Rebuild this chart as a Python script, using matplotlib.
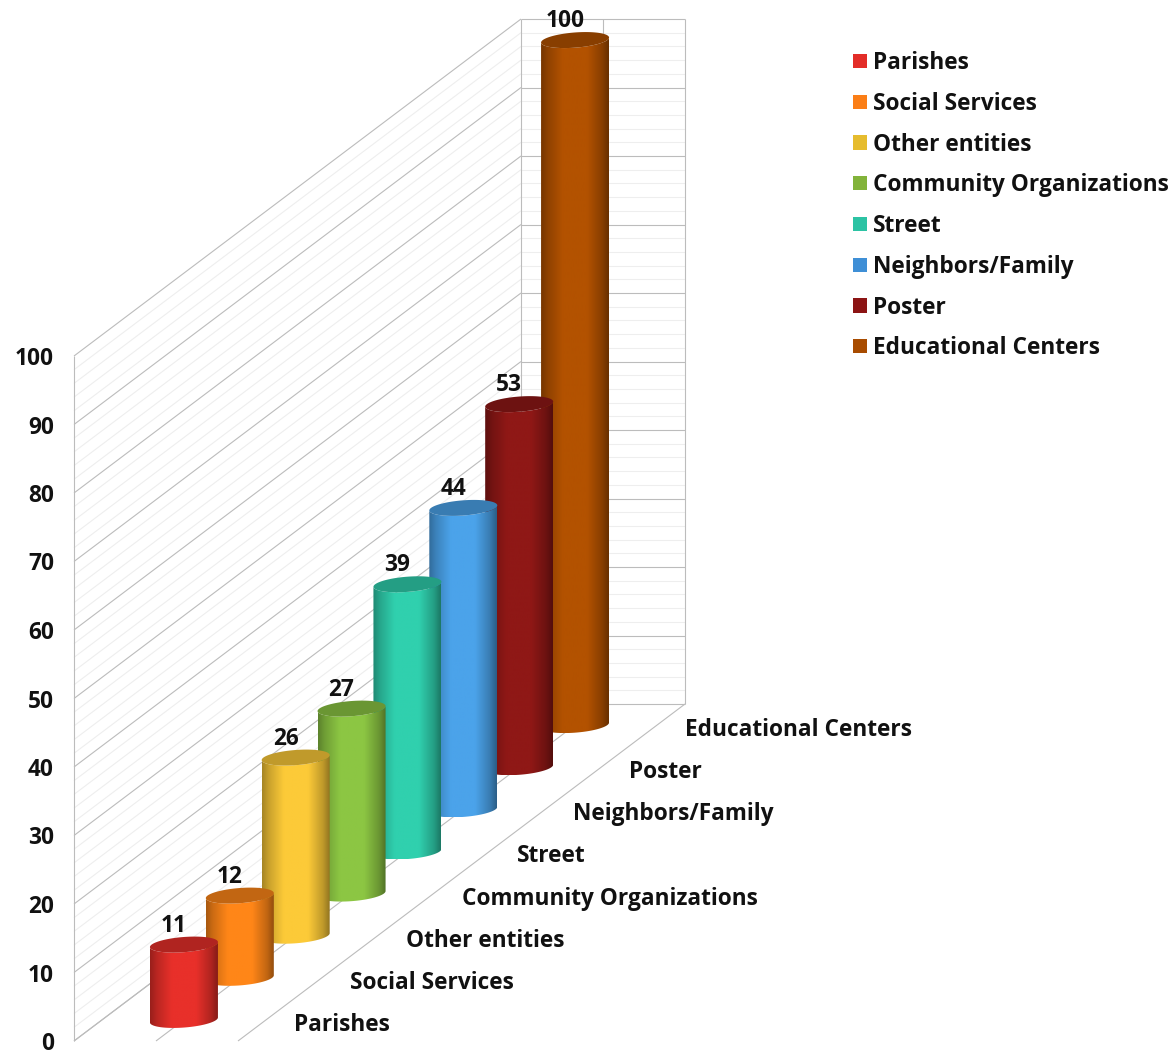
import numpy as np
import matplotlib
matplotlib.use("Agg")
import matplotlib.pyplot as plt
from matplotlib.patches import Patch, Polygon
from matplotlib.colors import to_rgb

categories = ["Parishes", "Social Services", "Other entities", "Community Organizations",
              "Street", "Neighbors/Family", "Poster", "Educational Centers"]
values = [11, 12, 26, 27, 39, 44, 53, 100]
colors = ["#e8302a", "#ff8618", "#fcca38", "#8cc643", "#30d0ae", "#4ba3ea", "#8f1816", "#b35200"]
legend_colors = ["#e32d28", "#fb7e16", "#e6bc2e", "#82b33a", "#2cc3a4", "#3f8fd6", "#8c1414", "#a84c00"]
major_ticks = list(range(0, 101, 10))
minor_ticks = list(range(0, 101, 2))

FONT = "Open Sans"
FS = 16.3
plt.rcParams["font.family"] = [FONT, "DejaVu Sans"]
plt.rcParams["font.weight"] = "bold"

# oblique projection: width fraction, depth (categories), value -> pixel position
X0, Y0 = 74.0, 1041.0
WIDTH, UNIT = 164.0, 6.85
DX, DY = 447.0 / 8, 337.0 / 8


def proj(w, d, v):
    return X0 + w * WIDTH + d * DX, Y0 - v * UNIT - d * DY


fig = plt.figure(figsize=(11.76, 10.54), dpi=100)
ax = fig.add_axes([0, 0, 1, 1])
ax.axis("off")

n = len(categories)
MAJ, MIN = "#bcbcbc", "#eeeeee"


def line(p, q, color, lw=0.8, z=1):
    ax.plot([p[0], q[0]], [p[1], q[1]], color=color, lw=lw, zorder=z, solid_capstyle="butt")


for v in minor_ticks:
    if v % 10:
        line(proj(0, 0, v), proj(0, n, v), MIN, z=1)
        line(proj(0, n, v), proj(1, n, v), MIN, z=1)
for v in major_ticks:
    line(proj(0, 0, v), proj(0, n, v), MAJ, z=2)
    line(proj(0, n, v), proj(1, n, v), MAJ, z=2)
    x, y = proj(0, 0, v)
    ax.text(x - 20, y + 3, str(v), ha="right", va="center", fontsize=FS, color="#111111")
line(proj(0, 0, 0), proj(0, 0, 100), MAJ)
line(proj(0, n, 0), proj(0, n, 100), MAJ)
line(proj(0.5, n, 0), proj(0.5, n, 100), MAJ)
line(proj(1, n, 0), proj(1, n, 100), MAJ)
for w in (0, 0.5, 1):
    line(proj(w, 0, 0), proj(w, n, 0), MAJ)

# cylinders, from the back to the front
A, B = 32.3, 0.19
t0 = np.arctan2(B * DX, A)


def rim(c, t):
    return np.column_stack([c[0] + A * np.cos(t) + B * DX * np.sin(t), c[1] - B * DY * np.sin(t)])


grad_pos = [0, 0.1, 0.32, 0.68, 0.9, 1]
grad_fac = [0.66, 0.8, 1, 1, 0.76, 0.58]
u = np.linspace(0, 1, 128)
shade = np.interp(u, grad_pos, grad_fac)

for i in range(n - 1, -1, -1):
    rgb = np.array(to_rgb(colors[i]))
    bottom = proj(0.5, i + 0.5, 0)
    top = proj(0.5, i + 0.5, values[i])
    t = np.linspace(t0 - np.pi, t0, 60)
    body = np.vstack([rim(bottom, t), rim(top, t[::-1])])
    z = 10 + (n - i) * 2
    clip = Polygon(body, closed=True, transform=ax.transData, fc="none", ec="none")
    ax.add_patch(clip)
    xmin, xmax = body[:, 0].min(), body[:, 0].max()
    im = ax.imshow((shade[:, None] * rgb)[None, :, :], extent=[xmin, xmax, body[:, 1].max(), body[:, 1].min()],
                   aspect="auto", zorder=z, interpolation="bilinear")
    im.set_clip_path(clip)
    tt = np.linspace(0, 2 * np.pi, 120)
    ax.add_patch(Polygon(rim(top, tt), closed=True, fc=tuple(rgb * 0.76), ec="none", zorder=z + 1))

for i in range(n):
    x, y = proj(0.5, i + 0.5, values[i])
    ax.text(x - 10, y - 19, str(values[i]), ha="center", va="center", fontsize=FS, color="#111111", zorder=40)
    fx, fy = proj(1, i + 0.5, 0)
    ax.text(fx + 28, fy + 5, categories[i], ha="left", va="center", fontsize=FS, color="#111111", zorder=40)

handles = [Patch(fc=c, ec="none", label=l) for c, l in zip(legend_colors, categories)]
ax.legend(handles=handles, loc="upper left", bbox_to_anchor=(853 / 1176, 1 - 51 / 1054),
          bbox_transform=fig.transFigure, frameon=False, fontsize=FS, handlelength=0.6, handleheight=0.6,
          handletextpad=0.3, labelspacing=0.74, borderpad=0, borderaxespad=0, labelcolor="#111111")

ax.set_xlim(0, 1176)
ax.set_ylim(1054, 0)
fig.savefig("out.png", dpi=100, facecolor="white")
